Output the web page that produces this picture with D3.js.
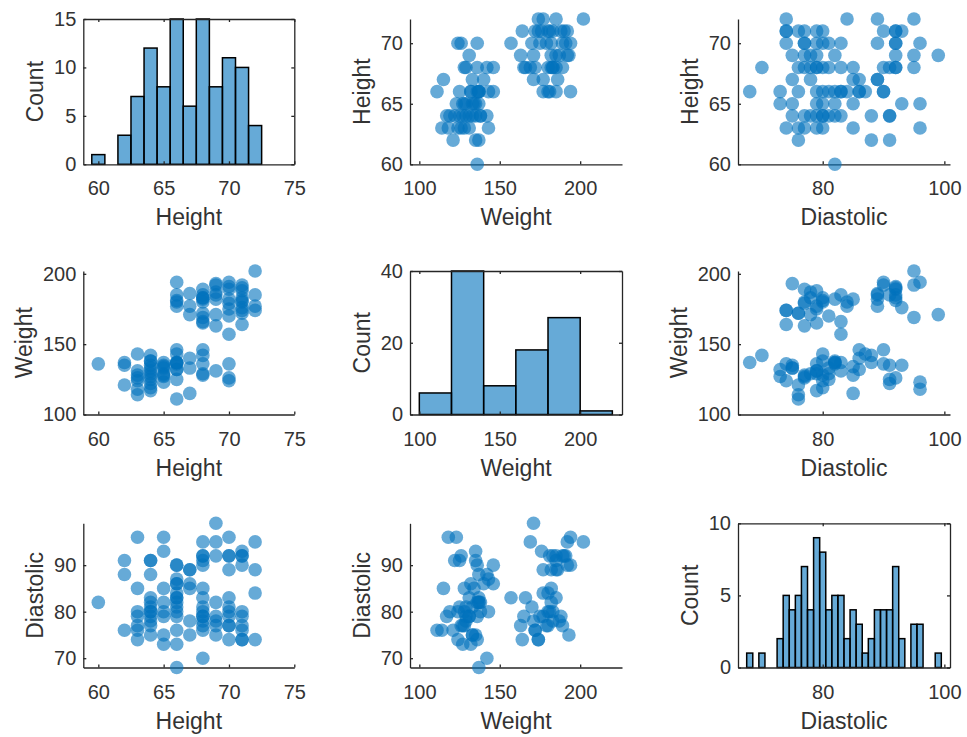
<!DOCTYPE html>
<html>
<head>
<meta charset="utf-8">
<script src="https://cdn.jsdelivr.net/npm/d3@7"></script>
<style>
  body { margin: 0; background: #fff; }
</style>
</head>
<body>
<div id="chart"></div>
<script>
let height = [60,
  62, 62, 62,
  63, 63, 63, 63, 63, 63, 63,
  64, 64, 64, 64, 64, 64, 64, 64, 64, 64, 64, 64,
  65, 65, 65, 65, 65, 65, 65, 65,
  66, 66, 66, 66, 66, 66, 66, 66, 66, 66, 66, 66, 66, 66, 66,
  67, 67, 67, 67, 67, 67,
  68, 68, 68, 68, 68, 68, 68, 68, 68, 68, 68, 68, 68, 68, 68,
  69, 69, 69, 69, 69, 69, 69, 69,
  70, 70, 70, 70, 70, 70, 70, 70, 70, 70, 70,
  71, 71, 71, 71, 71, 71, 71, 71, 71, 71,
  72, 72, 72, 72];
let weight = [136,
  135, 137, 121,
  118, 128, 143, 131, 126, 114, 124,
  125, 122, 142, 131, 138, 133, 119, 138, 117, 129, 127, 135,
  123, 135, 137, 128, 129, 134, 133, 127,
  136, 132, 146, 143, 137, 137, 125, 111, 132, 137, 194, 180, 185, 181, 177,
  186, 177, 115, 140, 171, 133,
  146, 142, 128, 136, 129, 169, 183, 189, 185, 182, 166, 180, 165, 183, 172,
  171, 192, 185, 182, 131, 187, 163, 193,
  126, 157, 124, 136, 194, 182, 191, 170, 175, 179, 189,
  176, 181, 190, 192, 183, 188, 180, 172, 174, 164,
  202, 185, 177, 174];
let diastolic = [82,
  91, 88, 76,
  96, 85, 80, 79, 77, 76, 74,
  91, 91, 88, 83, 82, 81, 80, 80, 79, 78, 77, 75,
  96, 93, 82, 80, 79, 85, 75, 73,
  90, 86, 86, 87, 83, 82, 81, 76, 73, 68, 90, 84, 83, 80, 79,
  89, 89, 85, 86, 78, 75,
  90, 70, 77, 79, 81, 95, 92, 92, 91, 85, 83, 80, 79, 78, 76,
  99, 95, 92, 82, 79, 78, 77, 75,
  92, 83, 80, 74, 96, 89, 92, 81, 79, 77, 77,
  93, 92, 92, 90, 80, 79, 77, 76, 74, 74,
  95, 89, 84, 74];

let varNames = ["Height", "Weight", "Diastolic"];
let columns = [height, weight, diastolic];

// axis settings per variable
let xDomains = [[58.85, 75], [94.2, 226], [66.07, 100.93]];
let yDomains = [[60, 72], [100, 202], [68, 99]];
let xTicks = [[60, 65, 70, 75], [100, 150, 200], [80, 100]];
let yTicks = [[60, 65, 70], [100, 150, 200], [70, 80, 90]];
let binEdges = [d3.range(59.5, 73, 1), d3.range(100, 221, 20), d3.range(67.5, 100, 1)];
let countMax = [15, 40, 10];
let countTicks = [[0, 5, 10, 15], [0, 20, 40], [0, 5, 10]];

// panel positions in the figure
let colX = [[83.3, 294.3], [410, 622], [738, 950]];
let rowY = [[19, 164.3], [271, 414.5], [523.3, 667.5]];

let ink = "#262626";
let textInk = "#333333";
let blue = "#0072BD";
let font = "'Liberation Sans', Arial, Helvetica, sans-serif";
let tickFont = 20;
let labelFont = 23;

let svg = d3.select("#chart")
    .append("svg")
    .attr("width", 967)
    .attr("height", 737)
    .style("font-family", font);

function styleAxis(sel) {
    sel.attr("font-family", font).attr("font-size", tickFont);
    sel.select(".domain").attr("stroke", ink).attr("stroke-width", 1.3);
    sel.selectAll(".tick line").attr("stroke", ink).attr("stroke-width", 1.3);
    sel.selectAll(".tick text").attr("fill", textInk);
}

for (let i = 0; i < 3; i++) {
    for (let j = 0; j < 3; j++) {
        let diag = i === j;
        let g = svg.append("g");

        let x = d3.scaleLinear().domain(xDomains[j]).range(colX[j]);
        let y = d3.scaleLinear()
            .domain(diag ? [0, countMax[i]] : yDomains[i])
            .range([rowY[i][1], rowY[i][0]]);

        if (diag) {
            let edges = binEdges[i];
            let bins = d3.bin()
                .domain([edges[0], edges[edges.length - 1]])
                .thresholds(edges.slice(1, -1))(columns[i]);

            g.selectAll("rect.bar")
                .data(bins.filter(b => b.length > 0))
                .enter()
                .append("rect")
                .attr("class", "bar")
                .attr("x", b => x(b.x0))
                .attr("width", b => x(b.x1) - x(b.x0))
                .attr("y", b => y(b.length))
                .attr("height", b => y(0) - y(b.length))
                .attr("fill", blue)
                .attr("fill-opacity", 0.6)
                .attr("stroke", "#000")
                .attr("stroke-width", 1.5);
        }

        // bottom axis
        g.append("g")
            .attr("transform", "translate(0," + rowY[i][1] + ")")
            .call(d3.axisBottom(x).tickValues(xTicks[j]).tickSizeInner(-3).tickSizeOuter(0).tickPadding(17))
            .call(styleAxis);

        // left axis
        let leftAxis = g.append("g")
            .attr("transform", "translate(" + colX[j][0] + ",0)")
            .call(d3.axisLeft(y).tickValues(diag ? countTicks[i] : yTicks[i]).tickSizeInner(-3).tickSizeOuter(0).tickPadding(7))
            .call(styleAxis);

        if (diag) {
            // box on: mirrored ticks on top and right
            g.append("g")
                .attr("transform", "translate(0," + rowY[i][0] + ")")
                .call(d3.axisTop(x).tickValues(xTicks[j]).tickSizeInner(-3).tickSizeOuter(0).tickFormat(() => ""))
                .call(styleAxis);
            g.append("g")
                .attr("transform", "translate(" + colX[j][1] + ",0)")
                .call(d3.axisRight(y).tickValues(countTicks[i]).tickSizeInner(-3).tickSizeOuter(0).tickFormat(() => ""))
                .call(styleAxis);
        } else {
            g.selectAll("circle")
                .data(d3.range(height.length))
                .enter()
                .append("circle")
                .attr("cx", k => x(columns[j][k]))
                .attr("cy", k => y(columns[i][k]))
                .attr("r", 6.8)
                .attr("fill", blue)
                .attr("fill-opacity", 0.6);
        }

        // x label
        g.append("text")
            .attr("x", (colX[j][0] + colX[j][1]) / 2)
            .attr("y", rowY[i][1] + 61)
            .attr("text-anchor", "middle")
            .attr("font-size", labelFont)
            .attr("fill", textInk)
            .text(varNames[j]);

        // y label, placed left of the widest tick label
        let maxW = d3.max(leftAxis.selectAll(".tick text").nodes(), n => n.getComputedTextLength());
        let lx = colX[j][0] - 7 - maxW - 11;
        g.append("text")
            .attr("transform", "translate(" + lx + "," + (rowY[i][0] + rowY[i][1]) / 2 + ") rotate(-90)")
            .attr("text-anchor", "middle")
            .attr("font-size", labelFont)
            .attr("fill", textInk)
            .text(diag ? "Count" : varNames[i]);
    }
}
</script>
</body>
</html>
